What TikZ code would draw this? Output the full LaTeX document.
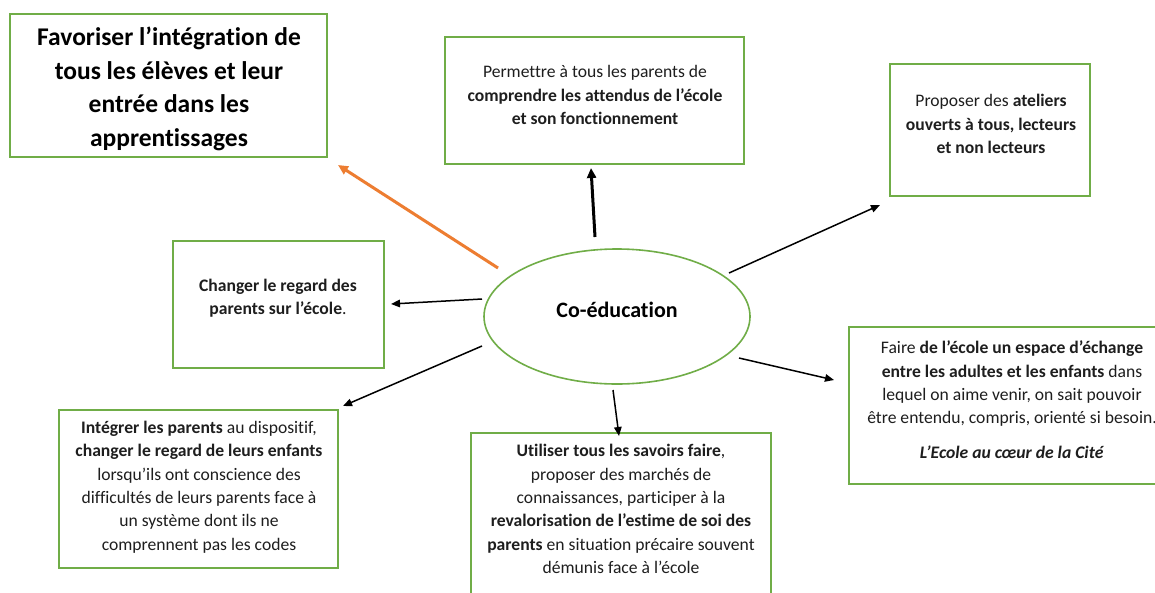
\documentclass[tikz,border=0pt]{standalone}
\usepackage{fontspec}
\setmainfont{Carlito}[Ligatures={NoCommon}]
\usetikzlibrary{arrows.meta,shapes.geometric}
\definecolor{boxgreen}{RGB}{112,173,71}
\definecolor{arrorange}{RGB}{237,125,49}
\definecolor{txtgray}{RGB}{30,30,30}
\tikzset{
  box/.style={draw=boxgreen, line width=2pt, rectangle, inner sep=0pt, outer sep=0pt, anchor=north west},
  smalltxt/.style={align=center, inner sep=0pt, text=txtgray, font=\fontsize{17.6}{23.3}\selectfont},
  bigtxt/.style={align=center, inner sep=0pt, text=black, font=\fontsize{25.5}{33.5}\selectfont\bfseries},
  ell/.style={draw=boxgreen, line width=1.6pt, ellipse, inner sep=0pt},
  conn/.style={line width=1.5pt, -{Triangle[length=9pt,width=7.5pt]}},
  thickconn/.style={line width=3pt, -{Triangle[length=10pt,width=9pt]}},
}
\begin{document}
\begin{tikzpicture}[x=1pt,y=-1pt]
\useasboundingbox (0,0) rectangle (1155,592);
\fill[white] (0,0) rectangle (1155,592);

% boxes
\node[box, minimum width=317pt, minimum height=143pt] (b1) at (10,14) {};
\node[box, minimum width=299pt, minimum height=127pt] (b2) at (445,37) {};
\node[box, minimum width=200pt, minimum height=132pt] (b3) at (890,64) {};
\node[box, minimum width=211pt, minimum height=127pt] (b4) at (173,241) {};
\node[box, minimum width=279pt, minimum height=158pt] (b5) at (59,410) {};
\node[box, minimum width=300pt, minimum height=180pt] (b6) at (471,433) {};
\node[box, minimum width=330pt, minimum height=157pt] (b7) at (849,327) {};

% texts
\node[bigtxt] (t1) at (169,89) {Favoriser l’intégration de\\tous les élèves et leur\\entrée dans les\\apprentissages};
\node[smalltxt] (t2) at (595,95) {Permettre à tous les parents de\\\textbf{comprendre les attendus de l’école}\\\textbf{et son fonctionnement}};
\node[smalltxt] (t3) at (991,124) {Proposer des \textbf{ateliers}\\\textbf{ouverts à tous, lecteurs}\\\textbf{et non lecteurs}};
\node[smalltxt] (t4) at (278,298) {\textbf{Changer le regard des}\\\textbf{parents sur l’école}.};
\node[smalltxt] (t5) at (199,487) {\textbf{Intégrer les parents} au dispositif,\\\textbf{changer le regard de leurs enfants}\\lorsqu’ils ont conscience des\\difficultés de leurs parents face à\\un système dont ils ne\\comprennent pas les codes};
\node[smalltxt] (t6) at (621,509) {\textbf{Utiliser tous les savoirs faire},\\proposer des marchés de\\connaissances, participer à la\\\textbf{revalorisation de l’estime de soi des}\\\textbf{parents} en situation précaire souvent\\démunis face à l’école};
\node[smalltxt] (t7) at (1012,400) {Faire \textbf{de l’école un espace d’échange}\\\textbf{entre les adultes et les enfants} dans\\lequel on aime venir, on sait pouvoir\\être entendu, compris, orienté si besoin.\\[12pt]\textbf{\itshape L’Ecole au cœur de la Cité}};

% centre
\node[ell, minimum width=266pt, minimum height=135pt] (c) at (617,316.5) {};
\node[font=\fontsize{22}{26}\selectfont\bfseries, inner sep=0pt] (ct) at (617,310) {Co-éducation};

% connector end points
\coordinate (s1) at (498,268); \coordinate (e1) at (338,165);
\coordinate (s2) at (595,237); \coordinate (e2) at (591,168);
\coordinate (s3) at (729,273); \coordinate (e3) at (880,205);
\coordinate (s4) at (739,358); \coordinate (e4) at (834,380);
\coordinate (s5) at (482,299); \coordinate (e5) at (391,304);
\coordinate (s6) at (482,346); \coordinate (e6) at (343,406);
\coordinate (s7) at (613,390); \coordinate (e7) at (619,436);

\draw[thickconn, draw=arrorange, fill=arrorange] (s1) -- (e1);
\draw[thickconn] (s2) -- (e2);
\draw[conn] (s3) -- (e3);
\draw[conn] (s4) -- (e4);
\draw[conn] (s5) -- (e5);
\draw[conn] (s6) -- (e6);
\draw[conn] (s7) -- (e7);
\end{tikzpicture}
\end{document}
